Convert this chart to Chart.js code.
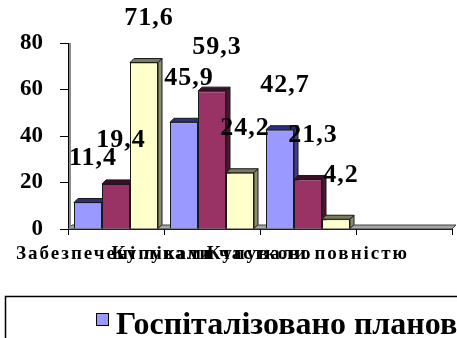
<!DOCTYPE html>
<html>
<head>
<meta charset="utf-8">
<script src="https://cdn.jsdelivr.net/npm/chart.js@4"></script>
<style>
  html, body { margin: 0; padding: 0; background: #fff; overflow: hidden; }
</style>
</head>
<body>
<canvas id="chart" width="457" height="338"></canvas>
<script>
// дані
const categories = ['Забезпечені ліками', 'Купували частково', 'Купували повністю', '']
const seriesNames = ['Госпіталізовано планово', 'Госпіталізовано ургентно', 'Лікувались амбулаторно']
const planovo = [11.4, 45.9, 42.7]
const urgentno = [19.4, 59.3, 21.3]
const ambulatorno = [71.6, 24.2, 4.2]
const yTicks = [0, 20, 40, 60, 80]

const fills = ['#9999ff', '#993366', '#ffffcc']
const topFaces = ['#2e2e80', '#3d0f26', '#7a7a5c']
const sideFaces = ['#3d3d8c', '#4d1430', '#8c8c6e']
const DEPTH = 4
const SERIF = '"Liberation Serif", "Times New Roman", serif'

const bar3d = {
  id: 'bar3d',
  beforeDatasetsDraw(chart) {
    const { ctx, chartArea: a } = chart
    ctx.save()
    // підлога
    ctx.beginPath()
    ctx.moveTo(a.left, a.bottom)
    ctx.lineTo(a.right, a.bottom)
    ctx.lineTo(a.right + DEPTH, a.bottom - DEPTH)
    ctx.lineTo(a.left + DEPTH, a.bottom - DEPTH)
    ctx.closePath()
    ctx.fillStyle = '#a6a6a6'
    ctx.fill()
    ctx.strokeStyle = '#404040'
    ctx.lineWidth = 1
    ctx.stroke()
    // стінка
    ctx.fillStyle = '#8c8c8c'
    ctx.fillRect(a.left + 1, a.top, 2, a.bottom - a.top)

    chart.data.datasets.forEach((ds, i) => {
      chart.getDatasetMeta(i).data.forEach(el => {
        const l = el.x - el.width / 2, r = el.x + el.width / 2
        ctx.strokeStyle = '#1a1a1a'
        // бокова грань
        ctx.beginPath()
        ctx.moveTo(r, el.y)
        ctx.lineTo(r + DEPTH, el.y - DEPTH)
        ctx.lineTo(r + DEPTH, el.base - DEPTH)
        ctx.lineTo(r, el.base)
        ctx.closePath()
        ctx.fillStyle = sideFaces[i]
        ctx.fill()
        ctx.stroke()
        // верхня грань
        ctx.beginPath()
        ctx.moveTo(l, el.y)
        ctx.lineTo(r, el.y)
        ctx.lineTo(r + DEPTH, el.y - DEPTH)
        ctx.lineTo(l + DEPTH, el.y - DEPTH)
        ctx.closePath()
        ctx.fillStyle = topFaces[i]
        ctx.fill()
        ctx.stroke()
      })
    })
    ctx.restore()
  },
  afterDatasetsDraw(chart) {
    const { ctx } = chart
    ctx.save()
    ctx.font = `bold 26px ${SERIF}`
    ctx.letterSpacing = '1px'
    ctx.fillStyle = '#000'
    ctx.textAlign = 'center'
    ctx.textBaseline = 'middle'
    chart.data.datasets.forEach((ds, i) => {
      chart.getDatasetMeta(i).data.forEach((el, j) => {
        const txt = ds.data[j].toFixed(1).replace('.', ',')
        ctx.fillText(txt, el.x + 5, el.y - 44)
      })
    })
    ctx.restore()
  },
  afterDraw(chart) {
    const { ctx, scales: { x } } = chart
    ctx.save()
    // підписи категорій
    ctx.font = `bold 19px ${SERIF}`
    ctx.letterSpacing = '2px'
    ctx.fillStyle = '#000'
    ctx.textAlign = 'center'
    ctx.textBaseline = 'middle'
    categories.forEach((c, i) => {
      if (c) ctx.fillText(c, x.getPixelForValue(i), 254)
    })

    // легенда
    ctx.letterSpacing = '0px'
    ctx.lineWidth = 1.5
    ctx.strokeStyle = '#000'
    ctx.strokeRect(5.5, 296.5, 700, 100)
    ctx.font = `bold 32px ${SERIF}`
    ctx.textAlign = 'left'
    ctx.textBaseline = 'alphabetic'
    let lx = 96
    seriesNames.forEach((name, i) => {
      ctx.fillStyle = fills[i]
      ctx.fillRect(lx, 313, 12, 12)
      ctx.lineWidth = 1
      ctx.strokeStyle = '#000'
      ctx.strokeRect(lx + 0.5, 313.5, 12, 12)
      ctx.fillStyle = '#000'
      ctx.fillText(name, lx + 20, 334)
      lx += 20 + ctx.measureText(name).width + 30
    })
    ctx.restore()
  }
}

new Chart(document.getElementById('chart'), {
  type: 'bar',
  data: {
    labels: categories,
    datasets: [planovo, urgentno, ambulatorno].map((d, i) => ({
      label: seriesNames[i],
      data: d,
      backgroundColor: fills[i],
      borderColor: '#1a1a1a',
      borderWidth: 1,
      categoryPercentage: 0.875,
      barPercentage: 1.0,
    })),
  },
  options: {
    responsive: false,
    animation: false,
    layout: { padding: { top: 43, right: 5, left: 0, bottom: 0 } },
    plugins: { legend: { display: false }, tooltip: { enabled: false } },
    scales: {
      x: {
        grid: { drawOnChartArea: false, color: '#000', tickLength: 6, offset: true },
        border: { color: '#000', width: 1 },
        ticks: { display: false },
        afterFit(s) { s.height = 338 - 229 },
      },
      y: {
        min: 0,
        max: 80,
        afterBuildTicks(s) { s.ticks = yTicks.map(v => ({ value: v })) },
        grid: { drawOnChartArea: false, color: '#000', tickLength: 8 },
        border: { color: '#000', width: 1 },
        ticks: {
          color: '#000',
          padding: 17,
          font: { family: SERIF, weight: 'bold', size: 23 },
        },
        afterFit(s) { s.width = 68 },
      },
    },
  },
  plugins: [bar3d],
})
</script>
</body>
</html>
